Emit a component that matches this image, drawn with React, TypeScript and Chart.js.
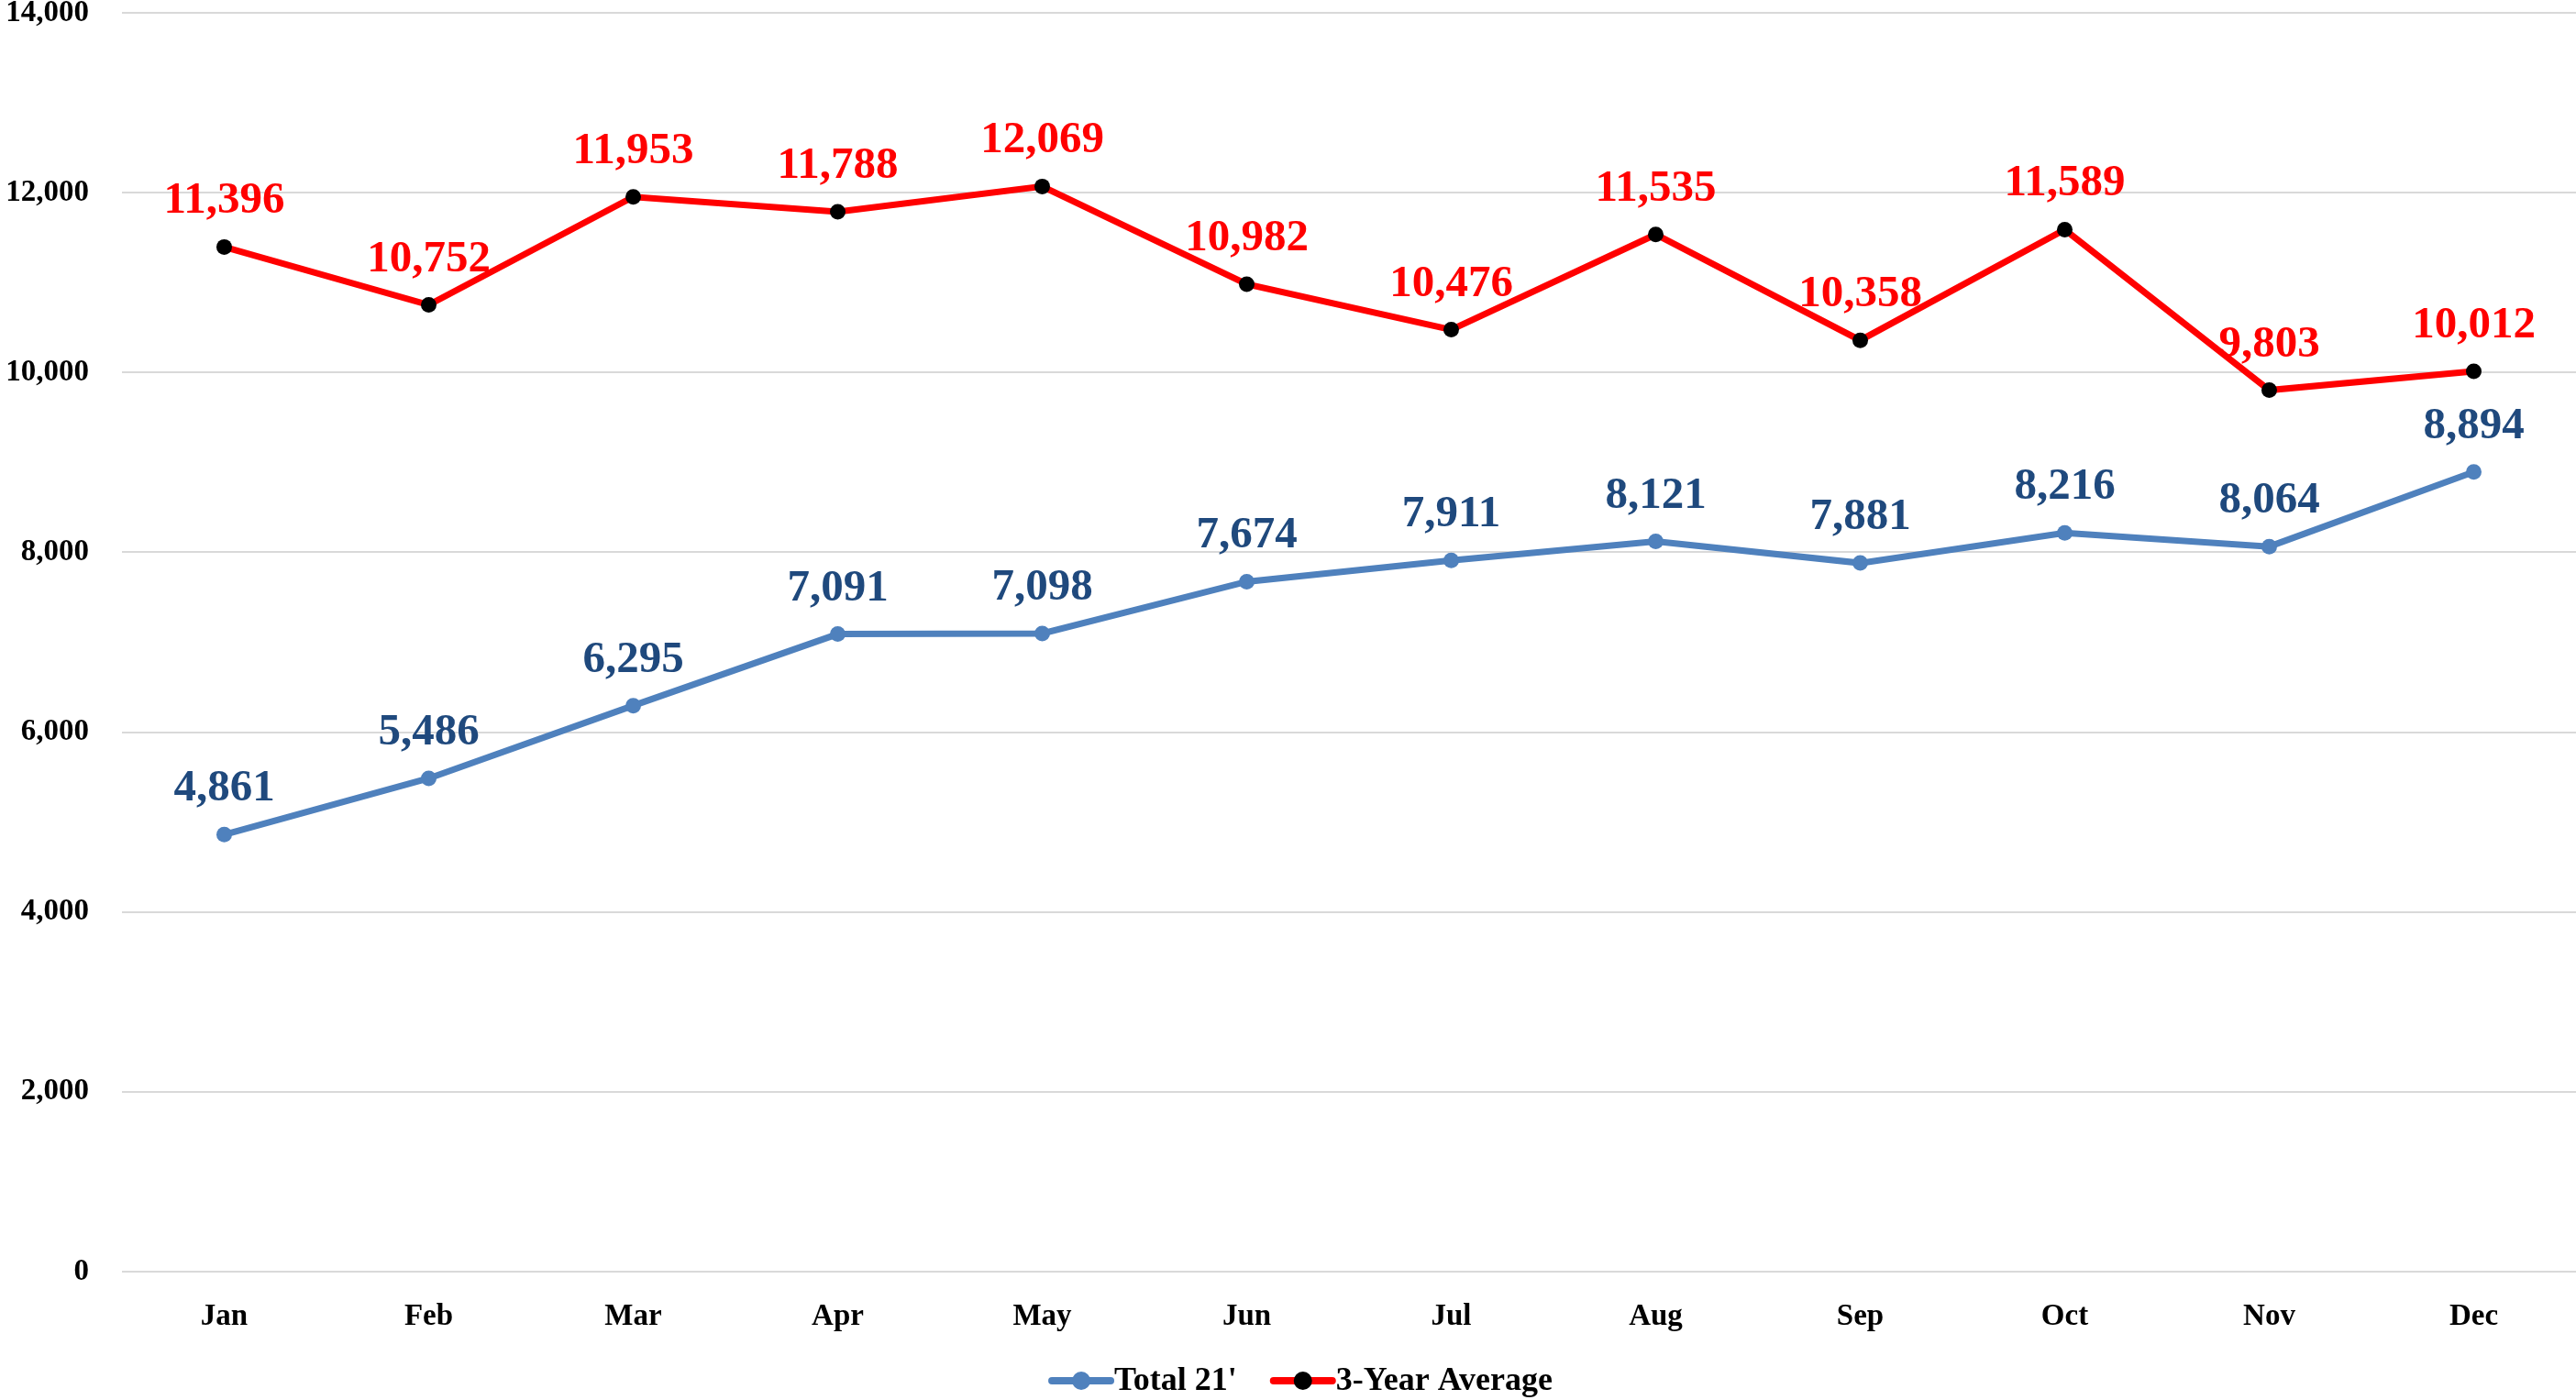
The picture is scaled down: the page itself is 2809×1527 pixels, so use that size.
import React, { useEffect, useRef } from "react";
import { Chart, registerables } from "chart.js";

Chart.register(...registerables);

const months = ["Jan", "Feb", "Mar", "Apr", "May", "Jun", "Jul", "Aug", "Sep", "Oct", "Nov", "Dec"];
const total21 = [4861, 5486, 6295, 7091, 7098, 7674, 7911, 8121, 7881, 8216, 8064, 8894];
const threeYearAvg = [11396, 10752, 11953, 11788, 12069, 10982, 10476, 11535, 10358, 11589, 9803, 10012];
const seriesNames = ["Total 21'", "3-Year Average"];

const FONT = "'Liberation Serif', 'DejaVu Serif', serif";
const BLUE = "#4F81BD";
const DARKBLUE = "#1F497D";
const RED = "#FF0000";

const fmt = (v: number) => v.toLocaleString("en-US");

const labelPlugin = {
  id: "valueLabels",
  afterDatasetsDraw(chart: any) {
    const ctx = chart.ctx;
    ctx.save();
    ctx.font = `bold 49px ${FONT}`;
    ctx.textAlign = "center";
    ctx.textBaseline = "alphabetic";
    chart.data.datasets.forEach((ds: any, i: number) => {
      const meta = chart.getDatasetMeta(i);
      ctx.fillStyle = i === 0 ? DARKBLUE : RED;
      meta.data.forEach((pt: any, j: number) => {
        ctx.fillText(fmt(ds.data[j]), pt.x, pt.y - 37);
      });
    });
    ctx.restore();
  },
};

const legendPlugin = {
  id: "customLegend",
  afterDraw(chart: any) {
    const ctx = chart.ctx;
    ctx.save();
    ctx.font = `bold 36px ${FONT}`;
    ctx.textBaseline = "middle";
    const y = 1506;
    const lineW = 64;
    const gapText = 4;
    const gapItems = 40;
    const colors = [
      { line: BLUE, dot: BLUE },
      { line: RED, dot: "#000000" },
    ];
    const widths = seriesNames.map((n) => lineW + gapText + ctx.measureText(n).width);
    const totalW = widths[0] + gapItems + widths[1];
    let x = 1420 - totalW / 2;
    seriesNames.forEach((name, i) => {
      ctx.strokeStyle = colors[i].line;
      ctx.lineWidth = 8;
      ctx.lineCap = "round";
      ctx.beginPath();
      ctx.moveTo(x, y);
      ctx.lineTo(x + lineW, y);
      ctx.stroke();
      ctx.fillStyle = colors[i].dot;
      ctx.beginPath();
      ctx.arc(x + lineW / 2, y, 10, 0, Math.PI * 2);
      ctx.fill();
      ctx.fillStyle = "#000000";
      ctx.textAlign = "left";
      ctx.fillText(name, x + lineW + gapText, y + 1);
      x += widths[i] + gapItems;
    });
    ctx.restore();
  },
};

function zeroPad(scale: any) {
  scale.paddingTop = 0;
  scale.paddingBottom = 0;
  scale.paddingLeft = 0;
  scale.paddingRight = 0;
}

export default function App() {
  const ref = useRef<HTMLCanvasElement>(null);
  useEffect(() => {
    document.body.style.margin = "0";
    const chart = new Chart(ref.current!, {
      type: "line",
      data: {
        labels: months,
        datasets: [
          {
            label: seriesNames[0],
            data: total21,
            borderColor: BLUE,
            backgroundColor: BLUE,
            pointBackgroundColor: BLUE,
            pointBorderColor: BLUE,
            borderWidth: 7,
            pointRadius: 8.5,
            pointBorderWidth: 0,
            tension: 0,
          },
          {
            label: seriesNames[1],
            data: threeYearAvg,
            borderColor: RED,
            backgroundColor: RED,
            pointBackgroundColor: "#000000",
            pointBorderColor: "#000000",
            borderWidth: 7,
            pointRadius: 8.5,
            pointBorderWidth: 0,
            tension: 0,
          },
        ],
      },
      options: {
        animation: false,
        responsive: false,
        maintainAspectRatio: false,
        layout: { autoPadding: false, padding: { top: 14, left: 0, right: 0, bottom: 0 } },
        plugins: {
          legend: { display: false },
          tooltip: { enabled: false },
        },
        scales: {
          x: {
            offset: true,
            grid: { display: false, drawTicks: false },
            border: { display: false },
            ticks: {
              color: "#000000",
              font: { family: FONT, size: 33, weight: "bold" },
              padding: 30,
            },
            afterFit(scale: any) {
              scale.height = 140;
              zeroPad(scale);
            },
          },
          y: {
            min: 0,
            max: 14000,
            grid: { color: "#D9D9D9", lineWidth: 2, drawTicks: false },
            border: { display: false },
            ticks: {
              stepSize: 2000,
              color: "#000000",
              font: { family: FONT, size: 33, weight: "bold" },
              padding: 36,
              callback: (v: any) => fmt(Number(v)),
            },
            afterFit(scale: any) {
              scale.width = 133;
              zeroPad(scale);
            },
          },
        },
      },
      plugins: [labelPlugin, legendPlugin],
    });
    return () => chart.destroy();
  }, []);
  return (
    <div style={{ position: "fixed", left: 0, top: 0, width: 2809, height: 1527 }}>
      <canvas ref={ref} width={2809} height={1527} style={{ width: 2809, height: 1527 }} />
    </div>
  );
}
